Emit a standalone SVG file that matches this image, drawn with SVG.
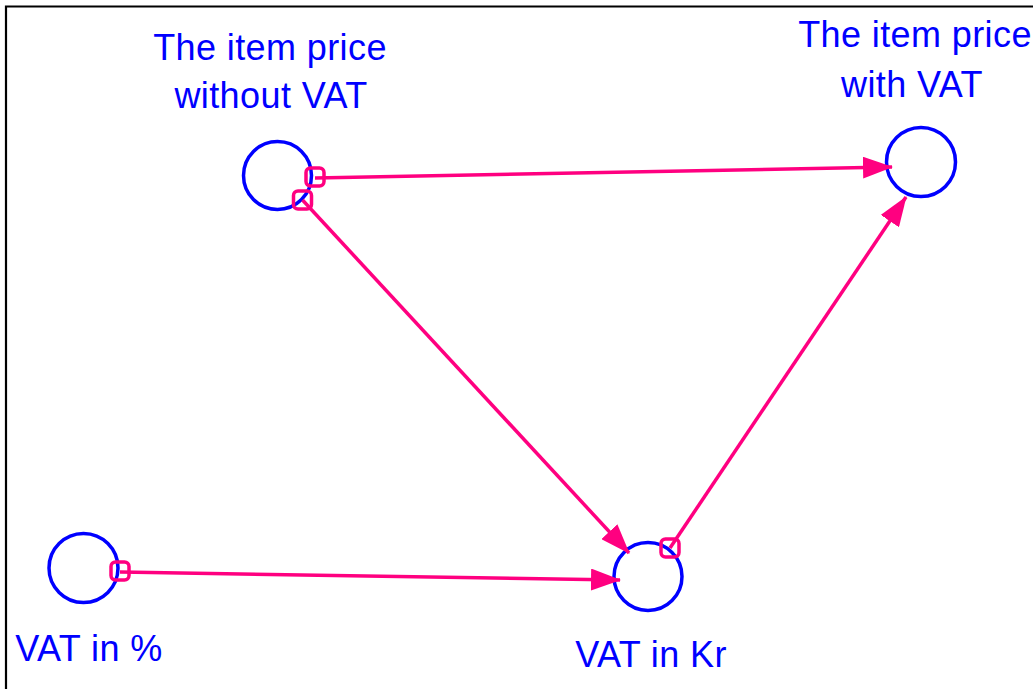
<svg xmlns="http://www.w3.org/2000/svg" width="1033" height="689" viewBox="0 0 1033 689">
  <style>
    .node { fill: none; stroke: #0000ff; stroke-width: 3.5; }
    .label { font-family: "Liberation Sans", Arial, sans-serif; font-size: 36px; fill: #0000ff; text-anchor: middle; letter-spacing: 0.4px; }
    .link { fill: none; stroke: #ff0080; stroke-width: 3.5; marker-end: url(#arrow); }
    .tail { fill: none; stroke: #ff0080; stroke-width: 3.5; }
  </style>
  <defs>
    <marker id="arrow" markerUnits="userSpaceOnUse" markerWidth="30" markerHeight="22" viewBox="0 0 30 22" refX="29" refY="11" orient="auto">
      <path d="M0,0 L30,11 L0,22 Z" fill="#ff0080"/>
    </marker>
  </defs>
  <rect width="1033" height="689" fill="#ffffff"/>
  <path d="M6,689 V6.5 H1033" fill="none" stroke="#000000" stroke-width="2.2"/>

  <g id="price-without-vat">
    <circle class="node" cx="277.5" cy="175.5" r="34"/>
    <text class="label" x="270" y="60">The item price</text>
    <text class="label" x="271" y="108">without VAT</text>
  </g>
  <g id="price-with-vat">
    <circle class="node" cx="921" cy="162" r="34.5"/>
    <text class="label" x="915" y="47">The item price</text>
    <text class="label" x="912" y="97">with VAT</text>
  </g>
  <g id="vat-percent">
    <circle class="node" cx="83.5" cy="568" r="34.5"/>
    <text class="label" x="89" y="661">VAT in %</text>
  </g>
  <g id="vat-kr">
    <circle class="node" cx="648" cy="576.5" r="34"/>
    <text class="label" x="651" y="667">VAT in Kr</text>
  </g>

  <g id="connectors">
    <line class="link" x1="315" y1="178" x2="892" y2="167"/>
    <rect class="tail" x="306" y="168" width="18" height="18" rx="4.5"/>
    <line class="link" x1="302.5" y1="200" x2="629" y2="553"/>
    <rect class="tail" x="293.5" y="191" width="18" height="18" rx="4.5"/>
    <line class="link" x1="670" y1="548" x2="906" y2="197"/>
    <rect class="tail" x="661" y="539" width="18" height="18" rx="4.5"/>
    <line class="link" x1="120" y1="572" x2="620" y2="580"/>
    <rect class="tail" x="111" y="562" width="18" height="18" rx="4.5"/>
  </g>
</svg>
